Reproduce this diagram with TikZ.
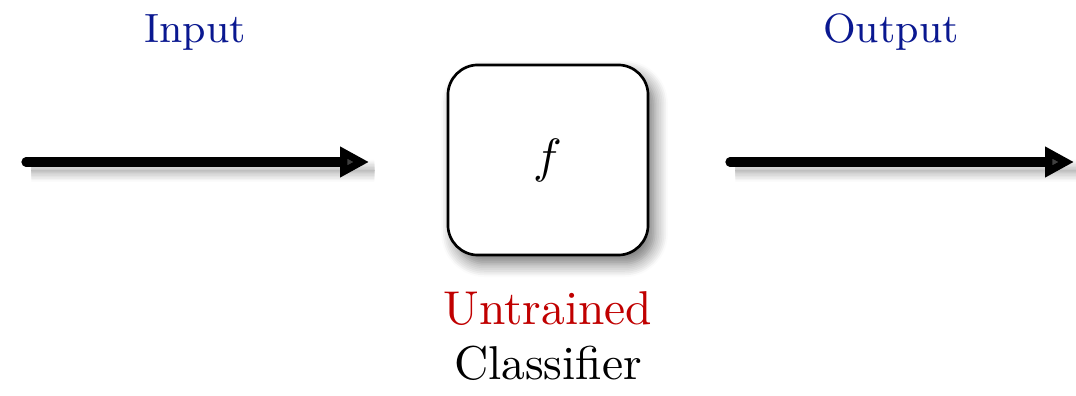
\documentclass[tikz,border=0pt]{standalone}
\usepackage{tikz}
\usetikzlibrary{arrows.meta,positioning,shadows.blur}
\definecolor{inblue}{HTML}{0A1890}
\definecolor{untred}{HTML}{C00000}

\begin{document}
\begin{tikzpicture}[x=0.008cm,y=-0.008cm,
  lbl/.style={font=\fontsize{10.8}{13}\selectfont,inner sep=0pt,anchor=base},
  iolbl/.style={lbl,font=\fontsize{9.3}{11}\selectfont,text=inblue},
  flow/.style={line width=2.1pt,line cap=round,-{Triangle[length=0.23cm,width=0.23cm]},
    blur shadow={shadow xshift=1.2pt,shadow yshift=-2pt,shadow blur radius=2.5pt,shadow blur steps=8,shadow opacity=50}},
  clfbox/.style={draw,line width=0.6pt,fill=white,rounded corners=0.24cm,
    minimum width=1.6cm,minimum height=1.52cm,font=\fontsize{10.8}{13}\selectfont,
    blur shadow={shadow xshift=1.5pt,shadow yshift=-2pt,shadow blur radius=3pt,shadow blur steps=8,shadow opacity=55}}]
  \useasboundingbox (0,0) rectangle (1076,396);
  % classifier box
  \node[clfbox] (clf) at (548,160) {$f$};
  \node[lbl,text=untred] (unt) at (548,325) {Untrained};
  \node[lbl] (cls) at (548,380) {Classifier};
  % input / output arrows
  \coordinate (inA) at (26,162);
  \coordinate (inB) at (369,162);
  \coordinate (outA) at (730,162);
  \coordinate (outB) at (1074,162);
  \draw[flow] (inA) -- (inB);
  \draw[flow] (outA) -- (outB);
  \node[iolbl] (inp) at (195,43) {Input};
  \node[iolbl] (outp) at (891,43) {Output};
\end{tikzpicture}
\end{document}
